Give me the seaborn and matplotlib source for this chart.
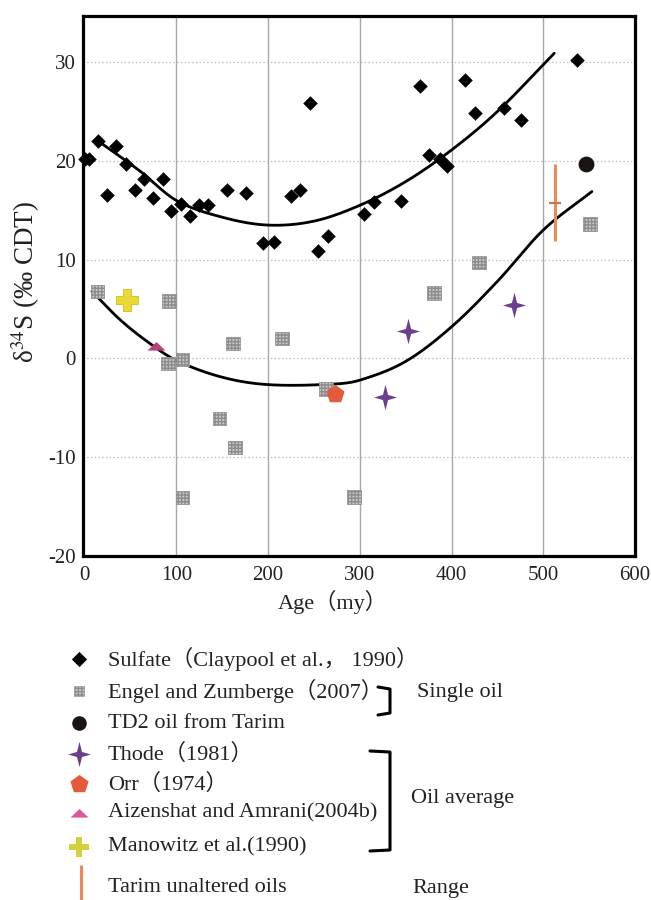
import numpy as np
import pandas as pd
import matplotlib
matplotlib.use("Agg")
import matplotlib.pyplot as plt
import seaborn as sns
from matplotlib.path import Path

# ---------------- data ----------------
sulfate_age = [0, 5, 15, 25, 34, 45, 55, 65, 75, 85, 94, 105, 115, 125, 135, 155, 176,
               195, 206, 225, 235, 246, 255, 265, 305, 316, 345, 366, 376, 387, 395,
               415, 426, 457, 476, 537]
sulfate_d34s = [20.2, 20.2, 22.0, 16.5, 21.5, 19.7, 17.1, 18.2, 16.2, 18.2, 14.9, 15.6, 14.4,
                15.5, 15.5, 17.1, 16.8, 11.7, 11.8, 16.4, 17.1, 25.9, 10.9, 12.4, 14.6,
                15.8, 15.9, 27.6, 20.6, 20.2, 19.5, 28.2, 24.8, 25.4, 24.1, 30.2]

engel_age = [14, 92, 91, 107, 162, 215, 147, 164, 107, 263, 294, 381, 430, 551]
engel_d34s = [6.8, 5.8, -0.5, -0.1, 1.5, 2.0, -6.1, -9.0, -14.1, -3.1, -14.0, 6.6, 9.7, 13.6]

td2_age = [547]
td2_d34s = [19.7]

thode_age = [353, 327, 468]
thode_d34s = [2.8, -3.9, 5.4]

orr_age = [273]
orr_d34s = [-3.6]

aizenshat_age = [78]
aizenshat_d34s = [1.3]

manowitz_age = [46]
manowitz_d34s = [5.9]

tarim_age = 513
tarim_low, tarim_mid, tarim_high = 11.9, 15.7, 19.7

# trend curves
upper_curve_age = [15, 60, 100, 150, 200, 250, 300, 350, 400, 450, 512]
upper_curve_d34s = [22.0, 19.0, 16.0, 14.3, 13.5, 13.9, 15.5, 17.9, 21.1, 25.0, 30.9]
lower_curve_age = [8, 39, 70, 100, 150, 200, 270, 300, 350, 400, 450, 500, 553]
lower_curve_d34s = [6.8, 3.9, 1.6, -0.2, -1.9, -2.65, -2.6, -2.2, -0.3, 3.2, 7.8, 13.0, 16.9]

x_ticks = [0, 100, 200, 300, 400, 500, 600]
y_ticks = [-20, -10, 0, 10, 20, 30]

legend_labels = ["Sulfate（Claypool et al.， 1990）",
                 "Engel and Zumberge（2007）",
                 "TD2 oil from Tarim",
                 "Thode（1981）",
                 "Orr（1974）",
                 "Aizenshat and Amrani(2004b)",
                 "Manowitz et al.(1990)",
                 "Tarim unaltered oils"]


def smooth_curve(xp, yp, n=300):
    xp = np.asarray(xp, float)
    yp = np.asarray(yp, float)
    m = np.empty_like(yp)
    m[1:-1] = (yp[2:] - yp[:-2]) / (xp[2:] - xp[:-2])
    m[0] = (yp[1] - yp[0]) / (xp[1] - xp[0])
    m[-1] = (yp[-1] - yp[-2]) / (xp[-1] - xp[-2])
    xs = np.linspace(xp[0], xp[-1], n)
    idx = np.clip(np.searchsorted(xp, xs) - 1, 0, len(xp) - 2)
    h = xp[idx + 1] - xp[idx]
    t = (xs - xp[idx]) / h
    h00 = 2 * t**3 - 3 * t**2 + 1
    h10 = t**3 - 2 * t**2 + t
    h01 = -2 * t**3 + 3 * t**2
    h11 = t**3 - t**2
    ys = h00 * yp[idx] + h10 * h * m[idx] + h01 * yp[idx + 1] + h11 * h * m[idx + 1]
    return xs, ys


# ---------------- style ----------------
sns.set_style("white")
plt.rcParams["font.family"] = ["Liberation Serif", "Noto Sans CJK SC", "DejaVu Sans"]
plt.rcParams["mathtext.fontset"] = "stix"
plt.rcParams["axes.unicode_minus"] = False

star_verts = [(0, 1), (0.2, 0.2), (0.9, 0), (0.2, -0.2), (0, -1), (-0.2, -0.2),
              (-0.9, 0), (-0.2, 0.2), (0, 1)]
star = Path(star_verts, [Path.MOVETO] + [Path.LINETO] * 7 + [Path.CLOSEPOLY])
tri = Path([(-1, -0.45), (1, -0.45), (0, 0.5), (-1, -0.45)],
           [Path.MOVETO, Path.LINETO, Path.LINETO, Path.CLOSEPOLY])

C_STAR = "#6b3e8e"
C_PENT = "#e45a3c"
C_TRI = "#b8447f"
C_TRI_LEG = "#d65a98"
C_CROSS = "#ecd936"
C_CROSS_LEG = "#d4cf3a"
C_RANGE = "#ec8a5a"
TXT = "#222222"

fig = plt.figure(figsize=(6.51, 9.0), dpi=100)
ax = fig.add_axes([82.7 / 651, 1 - 556 / 900, (635 - 82.7) / 651, (556 - 15.7) / 900])

# grid
for xv in x_ticks[1:-1]:
    ax.axvline(xv, color="#a8a8a8", lw=1.0, zorder=0)
for yv in y_ticks[1:]:
    ax.axhline(yv, color="#b8b8b8", lw=0.9, ls=(0, (1, 2)), zorder=0)

# curves
for ages, vals in [(upper_curve_age, upper_curve_d34s), (lower_curve_age, lower_curve_d34s)]:
    xs, ys = smooth_curve(ages, vals)
    ax.plot(xs, ys, color="black", lw=2.0, zorder=2)

df_s = pd.DataFrame({"age": sulfate_age, "d34s": sulfate_d34s})
df_e = pd.DataFrame({"age": engel_age, "d34s": engel_d34s})

sns.scatterplot(data=df_s, x="age", y="d34s", marker="D", s=55, color="black",
                edgecolor="black", linewidth=0, ax=ax, zorder=3, clip_on=False)
sns.scatterplot(data=df_e, x="age", y="d34s", marker="s", s=95, color="#c8c8c8",
                edgecolor="#8c8c8c", linewidth=0.5, ax=ax, zorder=3)
ax.collections[-1].set_hatch("+++++")
sns.scatterplot(x=td2_age, y=td2_d34s, marker="o", s=130, color="#1a1413", linewidth=0, ax=ax, zorder=3)
sns.scatterplot(x=thode_age, y=thode_d34s, marker=star, s=340, color=C_STAR, linewidth=0, ax=ax, zorder=4)
sns.scatterplot(x=orr_age, y=orr_d34s, marker="p", s=190, color=C_PENT, linewidth=0, ax=ax, zorder=4)
sns.scatterplot(x=aizenshat_age, y=aizenshat_d34s, marker=tri, s=170, color=C_TRI, linewidth=0, ax=ax, zorder=4)
sns.scatterplot(x=manowitz_age, y=manowitz_d34s, marker="P", s=230, color=C_CROSS,
                edgecolor="#d2bd20", linewidth=0.6, ax=ax, zorder=4)

# Tarim range
ax.vlines(tarim_age, tarim_low, tarim_high, color=C_RANGE, lw=2.2, zorder=4)
ax.hlines(tarim_mid, tarim_age - 6.5, tarim_age + 6.5, color="#c8764e", lw=1.6, zorder=5)

ax.set_xlim(-2, 600)
ax.set_ylim(-20, 34.7)
ax.set_xticks(x_ticks)
ax.set_yticks(y_ticks)
ax.tick_params(axis="both", length=0, labelsize=15, colors=TXT)
ax.tick_params(axis="x", pad=7)
ax.tick_params(axis="y", pad=5)
for sp in ax.spines.values():
    sp.set_visible(True)
    sp.set_color("black")
    sp.set_linewidth(2.3)
ax.set_xlabel("")
ax.set_ylabel("")
fig.text(333 / 651, 1 - 602 / 900, "Age（my）", fontsize=16, ha="center", va="center", color=TXT)
fig.text(26 / 651, 1 - 282 / 900, "δ$^{34}$S (‰ CDT)", fontsize=19.5, rotation=90,
         ha="center", va="center", color=TXT)

# ---------------- custom legend ----------------
lax = fig.add_axes([0, 0, 1, 1])
lax.set_xlim(0, 651)
lax.set_ylim(900, 0)
lax.axis("off")

rows_y = [659, 691, 723, 754, 784, 813, 847, 888]
mx = 79
tx = 108
lax.scatter([mx], [rows_y[0]], marker="D", s=60, color="black", linewidth=0)
h = lax.scatter([mx], [rows_y[1]], marker="s", s=60, color="#c8c8c8", edgecolor="#8c8c8c", linewidth=0.4)
h.set_hatch("+++++")
lax.scatter([mx], [rows_y[2]], marker="o", s=110, color="#1a1413", linewidth=0)
lax.scatter([mx], [rows_y[3]], marker=star, s=330, color=C_STAR, linewidth=0)
lax.scatter([mx], [rows_y[4]], marker="p", s=190, color=C_PENT, linewidth=0)
lax.scatter([mx], [rows_y[5]], marker=tri, s=170, color=C_TRI_LEG, linewidth=0)
lax.scatter([mx], [rows_y[6]], marker="P", s=190, color=C_CROSS_LEG, linewidth=0)
lax.plot([80.7, 80.7], [865, 900], color=C_RANGE, lw=2.2, solid_capstyle="butt")

for i, lab in enumerate(legend_labels):
    lax.text(tx, rows_y[i], lab, fontsize=16, va="center", ha="left", color=TXT)

# brackets
lax.plot([378, 390, 390, 378], [687, 689, 713, 715], color="black", lw=2.2)
lax.plot([370, 390, 390, 370], [751, 752, 850, 851], color="black", lw=2.2)
lax.text(417, 693, "Single oil", fontsize=16, va="center", ha="left", color=TXT)
lax.text(411, 798, "Oil average", fontsize=16, va="center", ha="left", color=TXT)
lax.text(412, 888, "Range", fontsize=16, va="center", ha="left", color=TXT)

fig.savefig("out.png", dpi=100)
